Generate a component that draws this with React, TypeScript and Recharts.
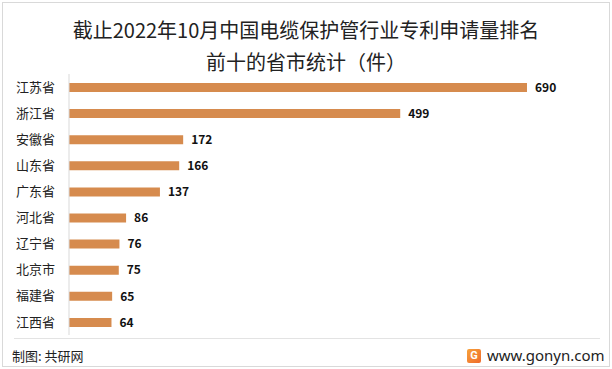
import React from "react";
import { BarChart, Bar, XAxis, YAxis, LabelList } from "recharts";

const provinces = [
  "江苏省",
  "浙江省",
  "安徽省",
  "山东省",
  "广东省",
  "河北省",
  "辽宁省",
  "北京市",
  "福建省",
  "江西省",
];
const patents = [690, 499, 172, 166, 137, 86, 76, 75, 65, 64];

const titleLines = ["截止2022年10月中国电缆保护管行业专利申请量排名", "前十的省市统计（件）"];

const data = provinces.map((name, i) => ({ name, value: patents[i] }));

const FONT = '"Noto Sans CJK SC", "Noto Sans", sans-serif';

const App = () => {
  return (
    <div
      style={{
        position: "absolute",
        left: 0,
        top: 0,
        width: 612,
        height: 369,
        background: "#fff",
        fontFamily: FONT,
        overflow: "hidden",
      }}
    >
      {/* outer frame */}
      <div
        style={{
          position: "absolute",
          left: 2,
          top: 2,
          width: 606,
          height: 363,
          border: "1px solid #d9d9d9",
        }}
      />
      {titleLines.map((t, i) => (
        <div
          key={t}
          style={{
            position: "absolute",
            left: 0,
            width: 612,
            top: 16 + i * 32,
            textAlign: "center",
            fontSize: 20,
            lineHeight: "27px",
            color: "#222",
          }}
        >
          {t}
        </div>
      ))}
      <div style={{ position: "absolute", left: 0, top: 0 }}>
        <BarChart
          width={612}
          height={369}
          data={data}
          layout="vertical"
          margin={{ top: 74, right: 12, left: 0, bottom: 34 }}
        >
          <XAxis type="number" domain={[0, 800]} hide />
          <YAxis
            type="category"
            dataKey="name"
            width={69}
            tickLine={false}
            tickMargin={8}
            axisLine={{ stroke: "#d9d9d9" }}
            tick={{ fill: "#222", fontSize: 13, fontFamily: FONT }}
            interval={0}
          />
          <Bar dataKey="value" fill="#D68B4E" barSize={9} isAnimationActive={false}>
            <LabelList
              dataKey="value"
              position="right"
              offset={8}
              style={{ fill: "#111", fontSize: 12, fontWeight: 700, fontFamily: FONT }}
            />
          </Bar>
        </BarChart>
      </div>
      {/* footer */}
      <div
        style={{
          position: "absolute",
          left: 14,
          top: 338,
          width: 586,
          height: 1,
          background: "#e3e3e3",
        }}
      />
      <div
        style={{
          position: "absolute",
          left: 12,
          top: 346,
          fontSize: 13,
          lineHeight: "19px",
          color: "#222",
        }}
      >
        制图: 共研网
      </div>
      <div
        style={{
          position: "absolute",
          left: 467,
          top: 349,
          width: 14,
          height: 14,
          borderRadius: 2,
          background: "linear-gradient(135deg, #f7a23b, #ef6a2c)",
          color: "#fff",
          fontSize: 11,
          fontWeight: 700,
          lineHeight: "14px",
          textAlign: "center",
          fontFamily: "Roboto, sans-serif",
        }}
      >
        G
      </div>
      <div
        style={{
          position: "absolute",
          left: 487,
          top: 345,
          fontSize: 15,
          lineHeight: "20px",
          color: "#222",
          fontFamily: '"Noto Sans", sans-serif',
        }}
      >
        www.gonyn.com
      </div>
    </div>
  );
};

export default App;
